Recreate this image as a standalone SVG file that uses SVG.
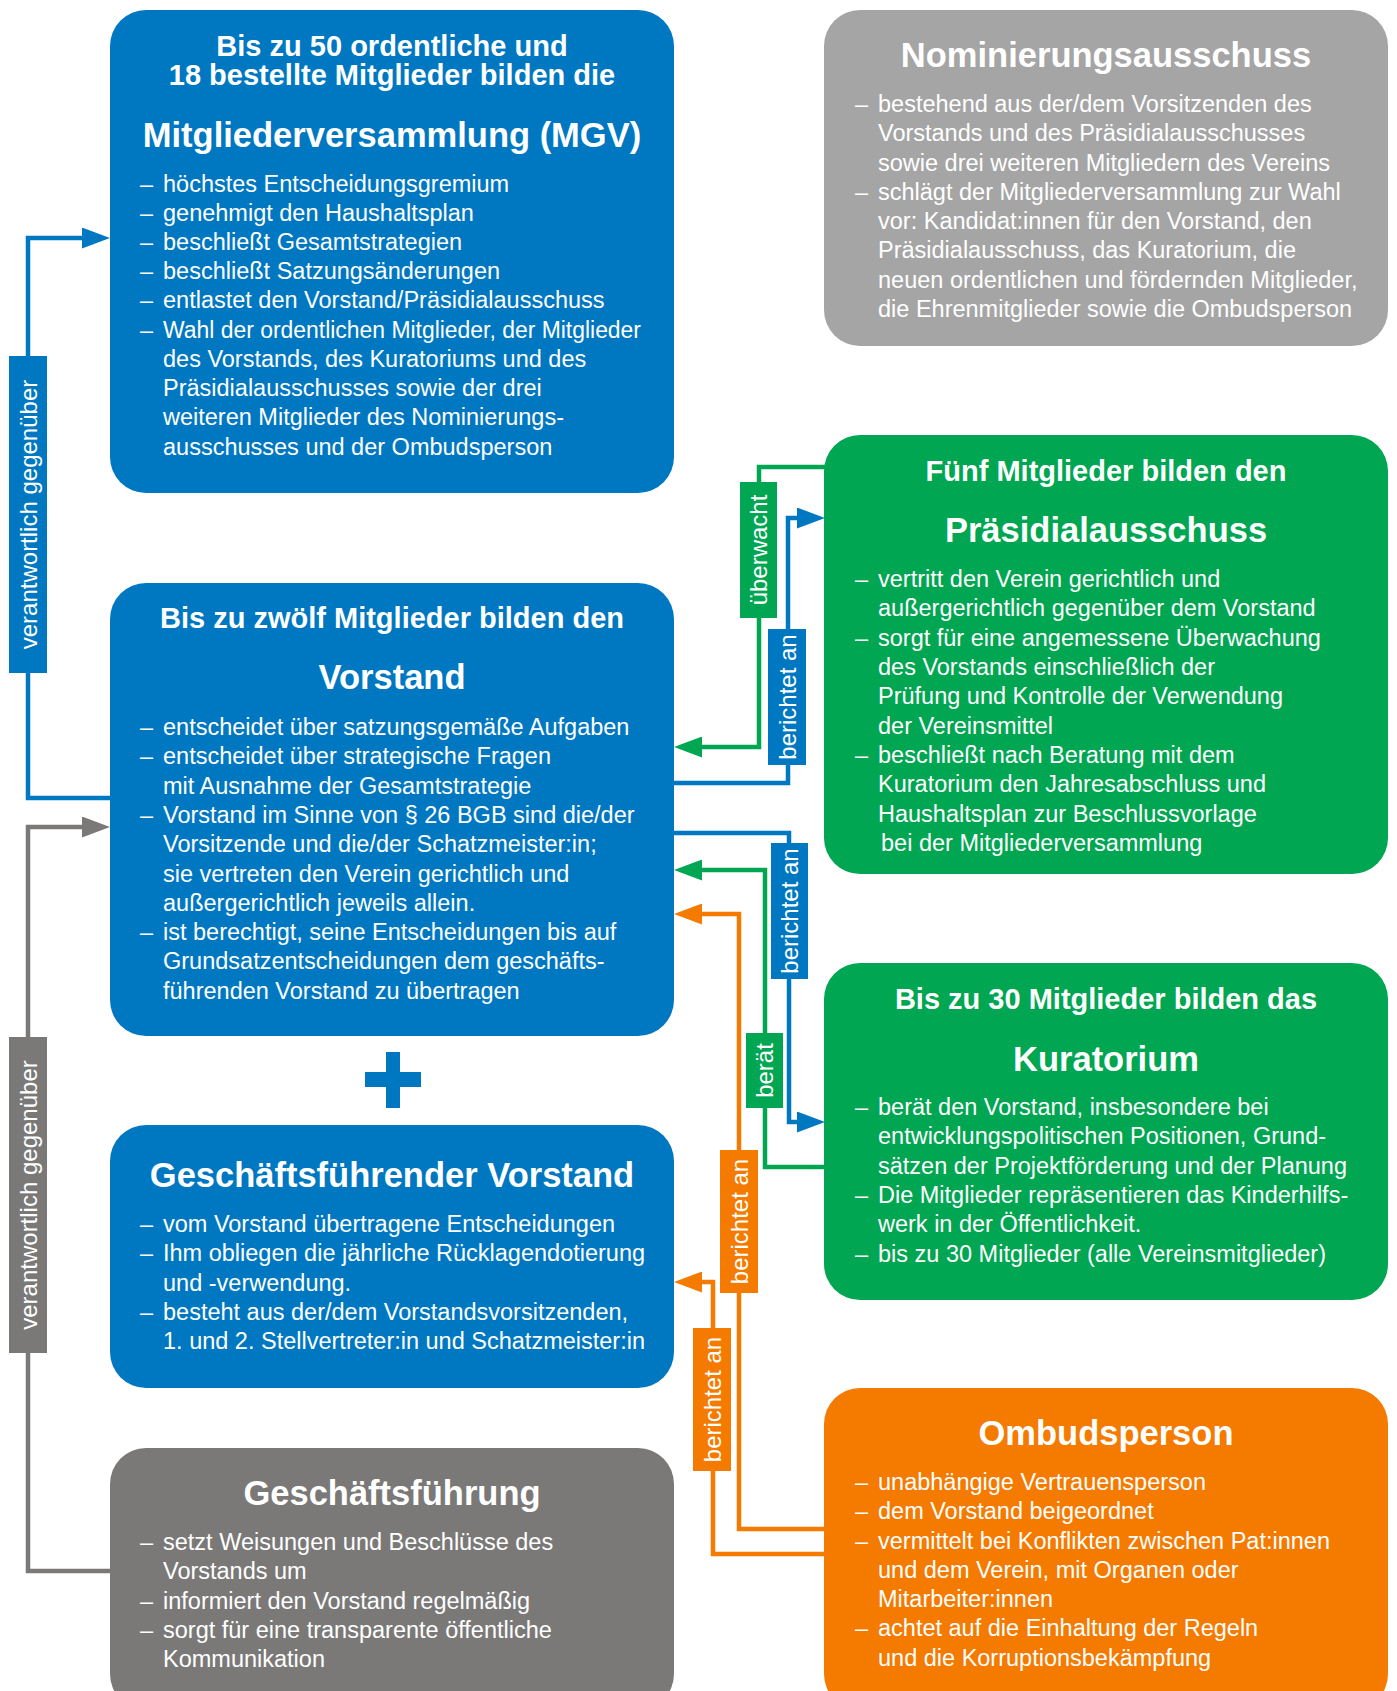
<svg xmlns="http://www.w3.org/2000/svg" width="1397" height="1691" viewBox="0 0 1397 1691">
<defs>
<style>
text{font-family:"Liberation Sans",Arial,Helvetica,sans-serif;fill:#fff}
.b{font-size:23.5px}
.sub{font-size:29px;font-weight:bold;text-anchor:middle}
.ttl{font-size:34.5px;font-weight:bold;text-anchor:middle}
.lbl{font-size:24px;text-anchor:middle}
.blue{fill:#0078C1}.green{fill:#00A651}.orange{fill:#F47A00}.lgray{fill:#A5A5A5}.dgray{fill:#7A7978}
.ln{fill:none;stroke-width:4.5}
.lb{stroke:#0078C1}.lg{stroke:#00A651}.lo{stroke:#F47A00}.ld{stroke:#7A7978}
</style>
<marker id="ab" markerUnits="userSpaceOnUse" viewBox="0 0 28 21" markerWidth="28" markerHeight="21" refX="18" refY="10.5" orient="auto"><path d="M0,0L28,10.5L0,21Z" fill="#0078C1"/></marker>
<marker id="ag" markerUnits="userSpaceOnUse" viewBox="0 0 28 21" markerWidth="28" markerHeight="21" refX="18" refY="10.5" orient="auto"><path d="M0,0L28,10.5L0,21Z" fill="#00A651"/></marker>
<marker id="ao" markerUnits="userSpaceOnUse" viewBox="0 0 28 21" markerWidth="28" markerHeight="21" refX="18" refY="10.5" orient="auto"><path d="M0,0L28,10.5L0,21Z" fill="#F47A00"/></marker>
<marker id="ad" markerUnits="userSpaceOnUse" viewBox="0 0 28 21" markerWidth="28" markerHeight="21" refX="18" refY="10.5" orient="auto"><path d="M0,0L28,10.5L0,21Z" fill="#7A7978"/></marker>
</defs>
<rect width="1397" height="1691" fill="#fff"/>

<g id="mgv">
<rect class="blue" x="110" y="10" width="564" height="483" rx="36"/>
<text class="sub" x="392" y="56">Bis zu 50 ordentliche und</text>
<text class="sub" x="392" y="85">18 bestellte Mitglieder bilden die</text>
<text class="ttl" x="392" y="147">Mitgliederversammlung (MGV)</text>
<g class="b">
<text x="140" y="192">–</text><text x="163" y="192">höchstes Entscheidungsgremium</text>
<text x="140" y="221">–</text><text x="163" y="221">genehmigt den Haushaltsplan</text>
<text x="140" y="250">–</text><text x="163" y="250">beschließt Gesamtstrategien</text>
<text x="140" y="279">–</text><text x="163" y="279">beschließt Satzungsänderungen</text>
<text x="140" y="308">–</text><text x="163" y="308">entlastet den Vorstand/Präsidialausschuss</text>
<text x="140" y="338">–</text><text x="163" y="338" textLength="478" lengthAdjust="spacingAndGlyphs">Wahl der ordentlichen Mitglieder, der Mitglieder</text>
<text x="163" y="367">des Vorstands, des Kuratoriums und des</text>
<text x="163" y="396">Präsidialausschusses sowie der drei</text>
<text x="163" y="425">weiteren Mitglieder des Nominierungs-</text>
<text x="163" y="455">ausschusses und der Ombudsperson</text>
</g>
</g>

<g id="nominierungsausschuss">
<rect class="lgray" x="824" y="10" width="564" height="336" rx="36"/>
<text class="ttl" x="1106" y="67">Nominierungsausschuss</text>
<g class="b">
<text x="855" y="112">–</text><text x="878" y="112">bestehend aus der/dem Vorsitzenden des</text>
<text x="878" y="141">Vorstands und des Präsidialausschusses</text>
<text x="878" y="171">sowie drei weiteren Mitgliedern des Vereins</text>
<text x="855" y="200">–</text><text x="878" y="200">schlägt der Mitgliederversammlung zur Wahl</text>
<text x="878" y="229">vor: Kandidat:innen für den Vorstand, den</text>
<text x="878" y="258">Präsidialausschuss, das Kuratorium, die</text>
<text x="878" y="288">neuen ordentlichen und fördernden Mitglieder,</text>
<text x="878" y="317">die Ehrenmitglieder sowie die Ombudsperson</text>
</g>
</g>

<g id="praesidialausschuss">
<rect class="green" x="824" y="435" width="564" height="439" rx="36"/>
<text class="sub" x="1106" y="481">Fünf Mitglieder bilden den</text>
<text class="ttl" x="1106" y="542">Präsidialausschuss</text>
<g class="b">
<text x="855" y="587">–</text><text x="878" y="587">vertritt den Verein gerichtlich und</text>
<text x="878" y="616">außergerichtlich gegenüber dem Vorstand</text>
<text x="855" y="646">–</text><text x="878" y="646">sorgt für eine angemessene Überwachung</text>
<text x="878" y="675">des Vorstands einschließlich der</text>
<text x="878" y="704">Prüfung und Kontrolle der Verwendung</text>
<text x="878" y="734">der Vereinsmittel</text>
<text x="855" y="763">–</text><text x="878" y="763">beschließt nach Beratung mit dem</text>
<text x="878" y="792">Kuratorium den Jahresabschluss und</text>
<text x="878" y="822">Haushaltsplan zur Beschlussvorlage</text>
<text x="881" y="851">bei der Mitgliederversammlung</text>
</g>
</g>

<g id="vorstand">
<rect class="blue" x="110" y="583" width="564" height="453" rx="36"/>
<text class="sub" x="392" y="628">Bis zu zwölf Mitglieder bilden den</text>
<text class="ttl" x="392" y="689">Vorstand</text>
<g class="b">
<text x="140" y="735">–</text><text x="163" y="735">entscheidet über satzungsgemäße Aufgaben</text>
<text x="140" y="764">–</text><text x="163" y="764">entscheidet über strategische Fragen</text>
<text x="163" y="794">mit Ausnahme der Gesamtstrategie</text>
<text x="140" y="823">–</text><text x="163" y="823">Vorstand im Sinne von § 26 BGB sind die/der</text>
<text x="163" y="852">Vorsitzende und die/der Schatzmeister:in;</text>
<text x="163" y="882">sie vertreten den Verein gerichtlich und</text>
<text x="163" y="911">außergerichtlich jeweils allein.</text>
<text x="140" y="940">–</text><text x="163" y="940">ist berechtigt, seine Entscheidungen bis auf</text>
<text x="163" y="969">Grundsatzentscheidungen dem geschäfts-</text>
<text x="163" y="999">führenden Vorstand zu übertragen</text>
</g>
</g>

<g id="plus">
<rect class="blue" x="386" y="1052" width="14" height="56"/>
<rect class="blue" x="365" y="1072" width="56" height="15"/>
</g>

<g id="kuratorium">
<rect class="green" x="824" y="963" width="564" height="337" rx="36"/>
<text class="sub" x="1106" y="1009">Bis zu 30 Mitglieder bilden das</text>
<text class="ttl" x="1106" y="1071">Kuratorium</text>
<g class="b">
<text x="855" y="1115">–</text><text x="878" y="1115">berät den Vorstand, insbesondere bei</text>
<text x="878" y="1144">entwicklungspolitischen Positionen, Grund-</text>
<text x="878" y="1174">sätzen der Projektförderung und der Planung</text>
<text x="855" y="1203">–</text><text x="878" y="1203">Die Mitglieder repräsentieren das Kinderhilfs-</text>
<text x="878" y="1232">werk in der Öffentlichkeit.</text>
<text x="855" y="1262">–</text><text x="878" y="1262">bis zu 30 Mitglieder (alle Vereinsmitglieder)</text>
</g>
</g>

<g id="geschaeftsfuehrender-vorstand">
<rect class="blue" x="110" y="1125" width="564" height="263" rx="36"/>
<text class="ttl" x="392" y="1187">Geschäftsführender Vorstand</text>
<g class="b">
<text x="140" y="1232">–</text><text x="163" y="1232">vom Vorstand übertragene Entscheidungen</text>
<text x="140" y="1261">–</text><text x="163" y="1261">Ihm obliegen die jährliche Rücklagendotierung</text>
<text x="163" y="1291">und -verwendung.</text>
<text x="140" y="1320">–</text><text x="163" y="1320">besteht aus der/dem Vorstandsvorsitzenden,</text>
<text x="163" y="1349">1. und 2. Stellvertreter:in und Schatzmeister:in</text>
</g>
</g>

<g id="geschaeftsfuehrung">
<rect class="dgray" x="110" y="1448" width="564" height="262" rx="36"/>
<text class="ttl" x="392" y="1505">Geschäftsführung</text>
<g class="b">
<text x="140" y="1550">–</text><text x="163" y="1550">setzt Weisungen und Beschlüsse des</text>
<text x="163" y="1579">Vorstands um</text>
<text x="140" y="1609">–</text><text x="163" y="1609">informiert den Vorstand regelmäßig</text>
<text x="140" y="1638">–</text><text x="163" y="1638">sorgt für eine transparente öffentliche</text>
<text x="163" y="1667">Kommunikation</text>
</g>
</g>

<g id="ombudsperson">
<rect class="orange" x="824" y="1388" width="564" height="322" rx="36"/>
<text class="ttl" x="1106" y="1445">Ombudsperson</text>
<g class="b">
<text x="855" y="1490">–</text><text x="878" y="1490">unabhängige Vertrauensperson</text>
<text x="855" y="1519">–</text><text x="878" y="1519">dem Vorstand beigeordnet</text>
<text x="855" y="1549">–</text><text x="878" y="1549">vermittelt bei Konflikten zwischen Pat:innen</text>
<text x="878" y="1578">und dem Verein, mit Organen oder</text>
<text x="878" y="1607">Mitarbeiter:innen</text>
<text x="855" y="1636">–</text><text x="878" y="1636">achtet auf die Einhaltung der Regeln</text>
<text x="878" y="1666">und die Korruptionsbekämpfung</text>
</g>
</g>

<g id="connectors">
<path class="ln lb" d="M112,798H28V238H100" marker-end="url(#ab)"/>
<path class="ln ld" d="M112,1571H28V827H100" marker-end="url(#ad)"/>
<path class="ln lg" d="M826,467H759V747H684" marker-end="url(#ag)"/>
<path class="ln lb" d="M672,783H788V518H815" marker-end="url(#ab)"/>
<path class="ln lb" d="M672,833H789V1122H815" marker-end="url(#ab)"/>
<path class="ln lg" d="M826,1167H765V870H684" marker-end="url(#ag)"/>
<path class="ln lo" d="M826,1529H739V914H684" marker-end="url(#ao)"/>
<path class="ln lo" d="M826,1554H713V1282H684" marker-end="url(#ao)"/>

<g id="label-mgv">
<rect class="blue" x="9" y="356" width="38" height="317"/>
<text class="lbl" transform="translate(28,514.5) rotate(-90)" y="8.5">verantwortlich gegenüber</text>
</g>
<g id="label-gf">
<rect class="dgray" x="9" y="1037" width="38" height="316"/>
<text class="lbl" transform="translate(28,1195) rotate(-90)" y="8.5">verantwortlich gegenüber</text>
</g>
<g id="label-ueberwacht">
<rect class="green" x="740" y="482" width="37" height="136"/>
<text class="lbl" transform="translate(758.5,550) rotate(-90)" y="8.5">überwacht</text>
</g>
<g id="label-berichtet-1">
<rect class="blue" x="768" y="629" width="38" height="136"/>
<text class="lbl" transform="translate(787,697) rotate(-90)" y="8.5">berichtet an</text>
</g>
<g id="label-berichtet-2">
<rect class="blue" x="771" y="843" width="37" height="136"/>
<text class="lbl" transform="translate(789.5,911) rotate(-90)" y="8.5">berichtet an</text>
</g>
<g id="label-beraet">
<rect class="green" x="746" y="1033" width="37" height="75"/>
<text class="lbl" transform="translate(764.5,1070.5) rotate(-90)" y="8.5">berät</text>
</g>
<g id="label-berichtet-3">
<rect class="orange" x="720" y="1150" width="38" height="143"/>
<text class="lbl" transform="translate(739,1221.5) rotate(-90)" y="8.5">berichtet an</text>
</g>
<g id="label-berichtet-4">
<rect class="orange" x="693" y="1328" width="38" height="143"/>
<text class="lbl" transform="translate(712,1399.5) rotate(-90)" y="8.5">berichtet an</text>
</g>
</g>
</svg>
